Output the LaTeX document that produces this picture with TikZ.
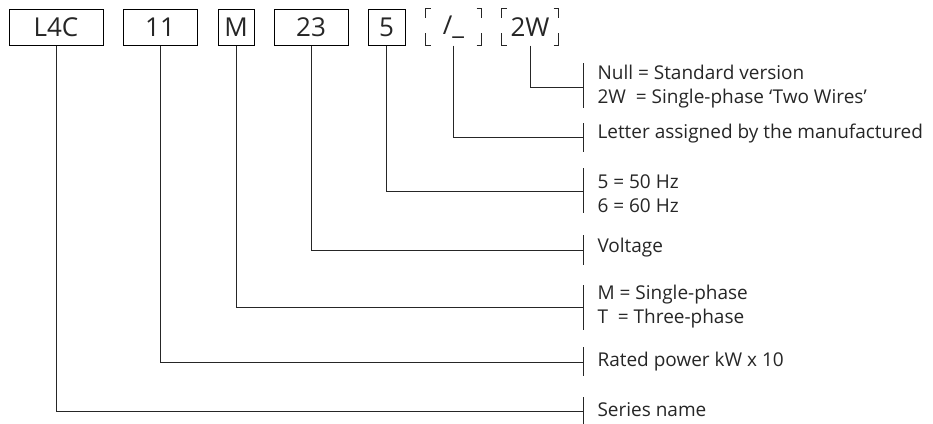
\documentclass[tikz,border=0pt]{standalone}
\usepackage{fontspec}
\setmainfont{Open Sans}
\usetikzlibrary{calc}
\begin{document}
\begin{tikzpicture}[x=1pt,y=-1pt,line width=1pt,
  codebox/.style={draw,minimum height=36pt,inner sep=0pt,font=\fontsize{26}{30}\selectfont,text=black!85},
  openbox/.style={minimum height=36pt,inner sep=0pt,font=\fontsize{26}{30}\selectfont,text=black!85},
  desc/.style={anchor=west,align=left,inner sep=0pt,font=\fontsize{19}{24}\selectfont,text=black!85},
  conn/.style={draw=black!85},
]
\useasboundingbox (0,0) rectangle (933,423);
% code boxes
\node[codebox,minimum width=94pt] (b1) at (56,27) {L4C};
\node[codebox,minimum width=74pt] (b2) at (160,27) {11};
\node[codebox,minimum width=36pt] (b3) at (236,27) {M};
\node[codebox,minimum width=74pt] (b4) at (311,27) {23};
\node[codebox,minimum width=37pt] (b5) at (386.5,27) {5};
\node[openbox,minimum width=55pt] (b6) at (453.5,27) {/\_};
\node[openbox,minimum width=56pt] (b7) at (530,27) {2W};
% corner ticks for open boxes
\foreach \b in {b6,b7}{
  \draw[conn] ($(\b.north west)+(5pt,0)$) -- (\b.north west) -- ($(\b.north west)+(0,-9pt)$);
  \draw[conn] ($(\b.north east)+(-5pt,0)$) -- (\b.north east) -- ($(\b.north east)+(0,-9pt)$);
  \draw[conn] ($(\b.south west)+(5pt,0)$) -- (\b.south west) -- ($(\b.south west)+(0,13pt)$);
  \draw[conn] ($(\b.south east)+(-5pt,0)$) -- (\b.south east) -- ($(\b.south east)+(0,13pt)$);
}
% bracket coordinates
\coordinate (k7) at (583,87);
\coordinate (k6) at (583,137);
\coordinate (k5) at (583,191);
\coordinate (k4) at (583,250);
\coordinate (k3) at (583,307);
\coordinate (k2) at (583,362);
\coordinate (k1) at (583,411);
% brackets
\draw[conn] (583,63) -- (583,108);
\draw[conn] (583,123) -- (583,152);
\draw[conn] (583,168) -- (583,213);
\draw[conn] (583,235) -- (583,265);
\draw[conn] (583,285) -- (583,330);
\draw[conn] (583,347) -- (583,376);
\draw[conn] (583,397) -- (583,424);
% connectors
\draw[conn] (b1.south) |- (k1);
\draw[conn] (b2.south) |- (k2);
\draw[conn] (b3.south) |- (k3);
\draw[conn] (b4.south) |- (k4);
\draw[conn] (b5.south) |- (k5);
\draw[conn] (b6.south) |- (k6);
\draw[conn] (b7.south) |- (k7);
% descriptions
\node[desc] (d7) at (597,87) {Null = Standard version\\2W\ \ = Single-phase ‘Two Wires’};
\node[desc] (d6) at (597,134) {Letter assigned by the manufactured};
\node[desc] (d5) at (597,194) {5 = 50 Hz\\6 = 60 Hz};
\node[desc] (d4) at (597,248) {Voltage};
\node[desc] (d3) at (597,307) {M = Single-phase\\T\ \ = Three-phase};
\node[desc] (d2) at (597,362) {Rated power kW x 10};
\node[desc] (d1) at (597,410) {Series name};
\end{tikzpicture}
\end{document}
